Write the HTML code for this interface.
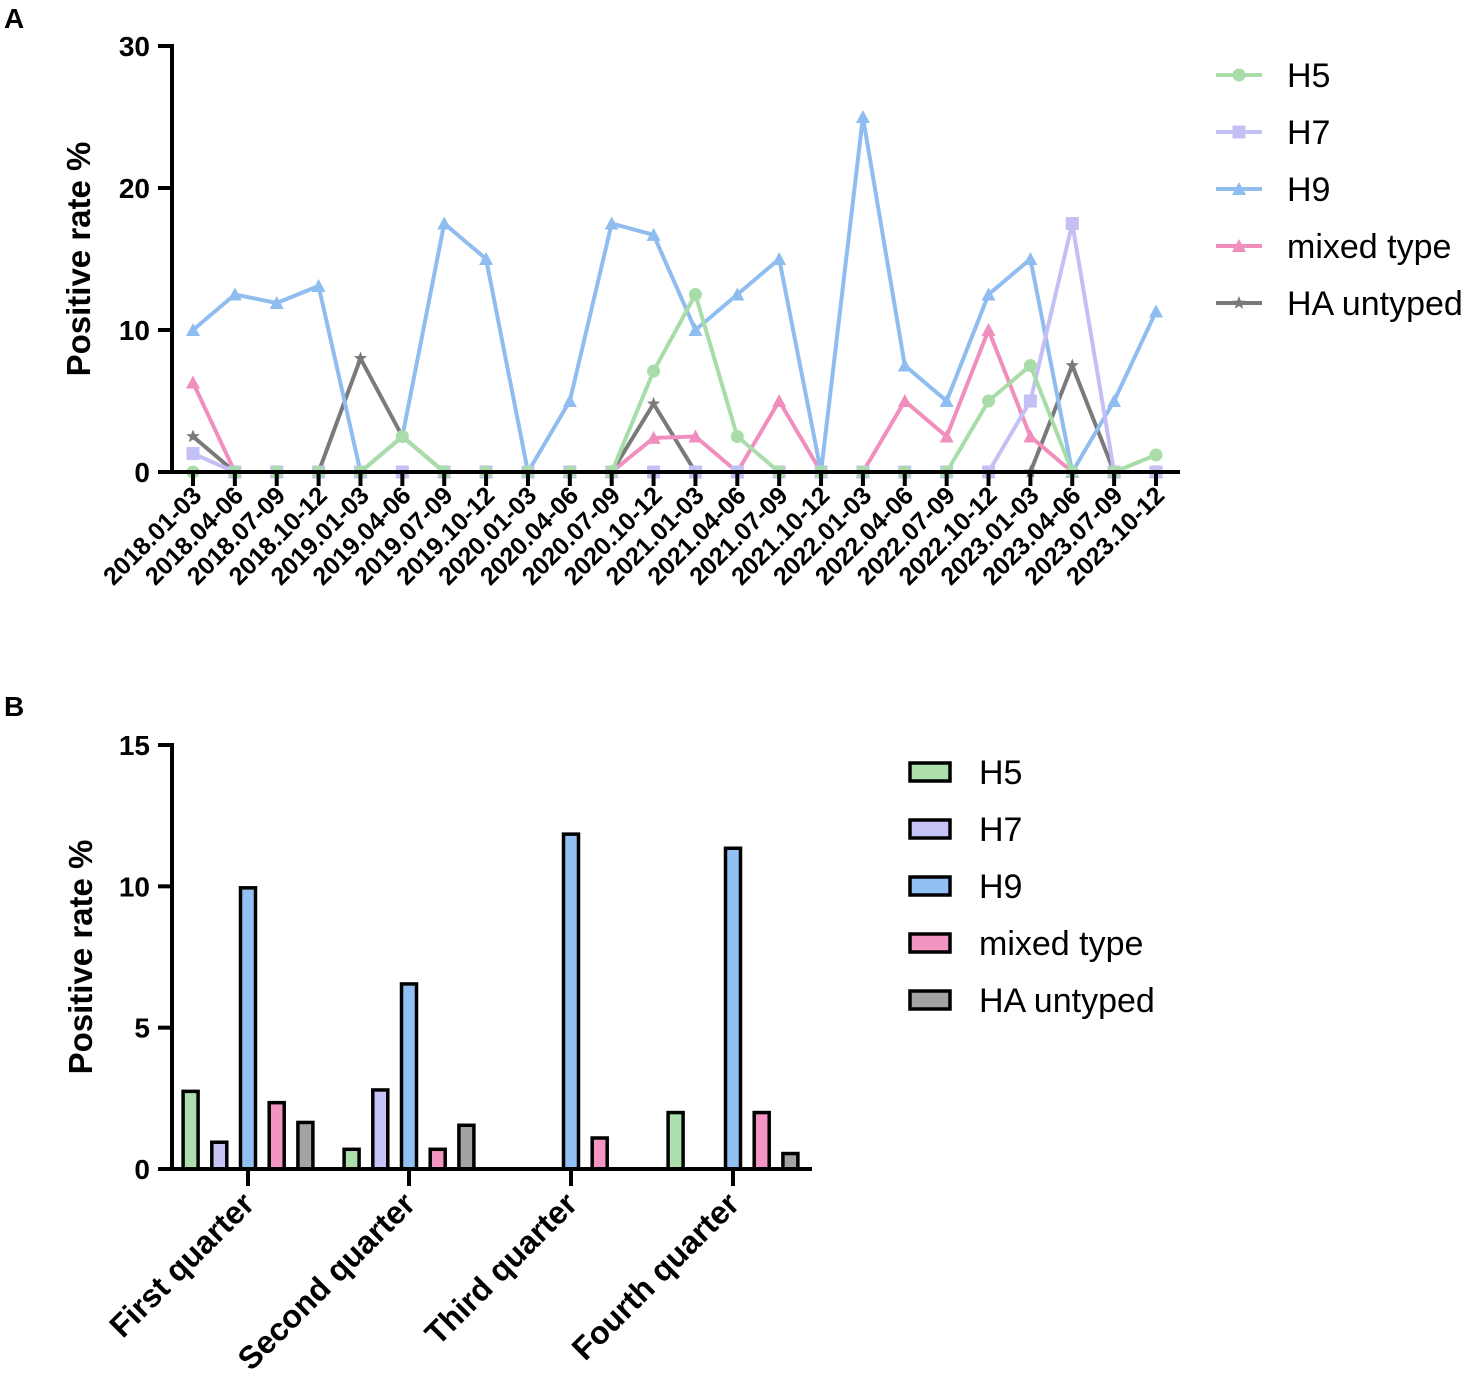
<!DOCTYPE html>
<html><head><meta charset="utf-8"><style>
body{margin:0;background:#fff;}
svg{display:block;font-family:"Liberation Sans",Arial,sans-serif;}
</style></head><body>
<svg id="s" width="1477" height="1385" xmlns="http://www.w3.org/2000/svg">
<text x="4" y="28" font-size="28" font-weight="bold">A</text>
<text x="4" y="716" font-size="28" font-weight="bold">B</text>
<g id="ga"></g>
<g id="gb"></g>
</svg>
<script>
const periods=["2018.01-03","2018.04-06","2018.07-09","2018.10-12","2019.01-03","2019.04-06","2019.07-09","2019.10-12","2020.01-03","2020.04-06","2020.07-09","2020.10-12","2021.01-03","2021.04-06","2021.07-09","2021.10-12","2022.01-03","2022.04-06","2022.07-09","2022.10-12","2023.01-03","2023.04-06","2023.07-09","2023.10-12"];
const h5=[0,0,0,0,0,2.5,0,0,0,0,0,7.1,12.5,2.5,0,0,0,0,0,5,7.5,0,0,1.2];
const h7=[1.3,0,0,0,0,0,0,0,0,0,0,0,0,0,0,0,0,0,0,0,5,17.5,0,0];
const h9=[10,12.5,11.9,13.1,0,2.5,17.5,15,0,5,17.5,16.7,10,12.5,15,0,25,7.5,5,12.5,15,0,5,11.3];
const mixed=[6.3,0,0,0,0,0,0,0,0,0,0,2.4,2.5,0,5,0,0,5,2.5,10,2.5,0,0,0];
const untyped=[2.5,0,0,0,8,2.5,0,0,0,0,0,4.8,0,0,0,0,0,0,0,0,0,7.5,0,0];
const yTicksA=[0,10,20,30];
const quarters=["First quarter","Second quarter","Third quarter","Fourth quarter"];
const bH5=[2.8,0.75,0,2.05];
const bH7=[1.0,2.85,0,0];
const bH9=[10,6.6,11.9,11.4];
const bMixed=[2.4,0.75,1.15,2.05];
const bUntyped=[1.7,1.6,0,0.6];
const yTicksB=[0,5,10,15];

const NS="http://www.w3.org/2000/svg";
function mk(p,t,a,txt){const e=document.createElementNS(NS,t);for(const k in a)e.setAttribute(k,a[k]);if(txt!==undefined)e.textContent=txt;p.appendChild(e);return e;}
const ga=document.getElementById('ga'),gb=document.getElementById('gb');
const xA=i=>193+i*(1156-193)/23, yA=v=>472-v*(472-46)/30;
const series=[
 {n:"HA untyped",d:untyped,c:"#7a7a7a",m:"star"},
 {n:"mixed type",d:mixed,c:"#f08fbd",m:"tri"},
 {n:"H9",d:h9,c:"#8fbdf0",m:"tri"},
 {n:"H7",d:h7,c:"#c3c0f5",m:"square"},
 {n:"H5",d:h5,c:"#a8dca8",m:"circle"}];
function marker(p,m,x,y,c){
 if(m==="circle")return mk(p,'circle',{cx:x,cy:y,r:6.5,fill:c});
 if(m==="square")return mk(p,'rect',{x:x-6.5,y:y-6.5,width:13,height:13,fill:c});
 if(m==="tri")return mk(p,'polygon',{points:`${x},${y-7} ${x-7},${y+6} ${x+7},${y+6}`,fill:c});
 let pts=[];for(let k=0;k<10;k++){const r=k%2?3:7,a=-Math.PI/2+k*Math.PI/5;pts.push((x+r*Math.cos(a)).toFixed(1)+","+(y+r*Math.sin(a)).toFixed(1));}
 return mk(p,'polygon',{points:pts.join(' '),fill:c});
}
series.forEach(s=>{
 const g=mk(ga,'g',{});
 
 
 mk(g,'polyline',{points:s.d.map((v,i)=>xA(i)+","+yA(v)).join(' '),fill:"none",stroke:s.c,"stroke-width":4});
 s.d.forEach((v,i)=>{const mm=marker(g,s.m,xA(i),yA(v),s.c);
  
  });
});
mk(ga,'line',{x1:172,y1:44,x2:172,y2:474,stroke:"#000","stroke-width":4});
mk(ga,'line',{x1:170,y1:472,x2:1180,y2:472,stroke:"#000","stroke-width":4});
yTicksA.forEach(v=>{mk(ga,'line',{x1:158,y1:yA(v),x2:172,y2:yA(v),stroke:"#000","stroke-width":4});
 const t=mk(ga,'text',{x:150,y:yA(v)+10,"font-size":28,"font-weight":"bold","text-anchor":"end"},v);
 });
periods.forEach((p,i)=>{const x=xA(i);
 mk(ga,'line',{x1:x,y1:472,x2:x,y2:486,stroke:"#000","stroke-width":4});
 const t=mk(ga,'text',{x:x+10,y:497,"font-size":25,"font-weight":"bold","text-anchor":"end",transform:`rotate(-45 ${x+10} 497)`},p);
 });
let yt=mk(ga,'text',{x:90,y:259,"font-size":33,"font-weight":"bold","text-anchor":"middle",transform:"rotate(-90 90 259)"},"Positive rate %");

const legA=[["H5","#a8dca8","circle"],["H7","#c3c0f5","square"],["H9","#8fbdf0","tri"],["mixed type","#f08fbd","tri"],["HA untyped","#7a7a7a","star"]];
legA.forEach((l,i)=>{const y=75+i*57;const g=mk(ga,'g',{});
 
 mk(g,'line',{x1:1216,y1:y,x2:1262,y2:y,stroke:l[1],"stroke-width":4});marker(g,l[2],1239,y,l[1]);
 mk(g,'text',{x:1287,y:y+12,"font-size":34},l[0]);});
const yB=v=>1169-v*(1169-745)/15;
const bseries=[[bH5,"#addfad"],[bH7,"#c6c4f7"],[bH9,"#93c0f2"],[bMixed,"#f395c3"],[bUntyped,"#a3a3a3"]];
const cx=[248,409,571,733];
quarters.forEach((q,qi)=>{bseries.forEach((s,si)=>{const v=s[0][qi];if(v<=0)return;
 const x=cx[qi]+(si-2)*28.7;const y=yB(v);
 const r=mk(gb,'rect',{x:x-7.5,y:y+1.5,width:15,height:1169-y-1.5,fill:s[1],stroke:"#000","stroke-width":3.5});
 });});
mk(gb,'line',{x1:172,y1:743,x2:172,y2:1171,stroke:"#000","stroke-width":4});
mk(gb,'line',{x1:170,y1:1169,x2:812,y2:1169,stroke:"#000","stroke-width":4});
yTicksB.forEach(v=>{mk(gb,'line',{x1:158,y1:yB(v),x2:172,y2:yB(v),stroke:"#000","stroke-width":4});
 const t=mk(gb,'text',{x:150,y:yB(v)+10,"font-size":28,"font-weight":"bold","text-anchor":"end"},v);
 });
quarters.forEach((q,i)=>{const x=cx[i];
 mk(gb,'line',{x1:x,y1:1169,x2:x,y2:1186,stroke:"#000","stroke-width":4});
 const t=mk(gb,'text',{x:x+8,y:1206,"font-size":32,"font-weight":"bold","text-anchor":"end",transform:`rotate(-45 ${x+8} 1206)`},q);
 });
yt=mk(gb,'text',{x:92,y:957,"font-size":33,"font-weight":"bold","text-anchor":"middle",transform:"rotate(-90 92 957)"},"Positive rate %");

const legB=[["H5","#addfad"],["H7","#c6c4f7"],["H9","#93c0f2"],["mixed type","#f395c3"],["HA untyped","#a3a3a3"]];
legB.forEach((l,i)=>{const y=772+i*57;const g=mk(gb,'g',{});
 
 mk(g,'rect',{x:910,y:y-9,width:40,height:18,fill:l[1],stroke:"#000","stroke-width":3.5});
 mk(g,'text',{x:979,y:y+12,"font-size":34},l[0]);});
</script>
</body></html>
